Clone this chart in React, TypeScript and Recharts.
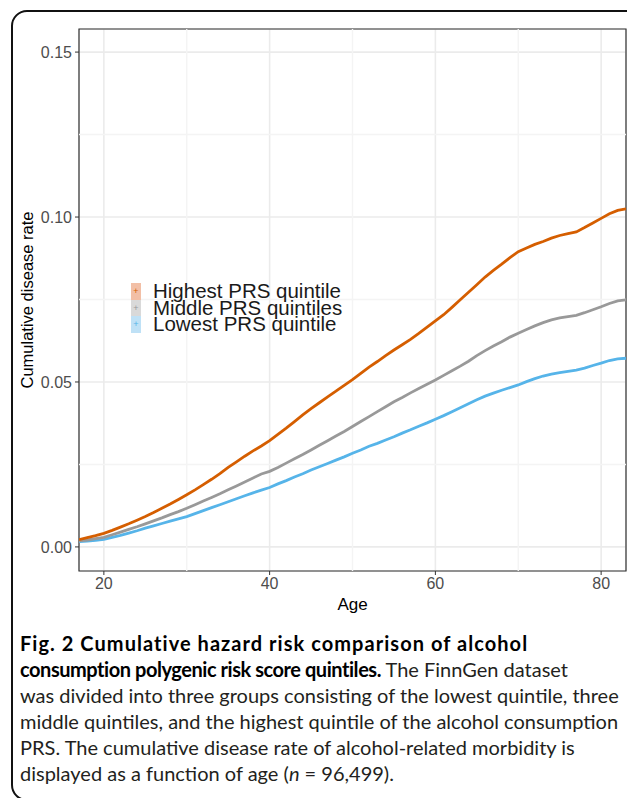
import { LineChart, Line, XAxis, YAxis, CartesianGrid, ReferenceLine, ReferenceArea } from "recharts";

const ages = [
  17, 18, 19, 20, 21, 22, 23, 24, 25, 26, 27, 28, 29, 30, 31, 32, 33, 34, 35, 36, 37, 38, 39, 40,
  41, 42, 43, 44, 45, 46, 47, 48, 49, 50, 51, 52, 53, 54, 55, 56, 57, 58, 59, 60, 61, 62, 63, 64,
  65, 66, 67, 68, 69, 70, 71, 72, 73, 74, 75, 76, 77, 78, 79, 80, 81, 82, 83,
];

const highest = [
  0.0022, 0.0028, 0.0034, 0.0041, 0.005, 0.006, 0.007, 0.0081, 0.0092, 0.0104, 0.0117, 0.013,
  0.0144, 0.0158, 0.0173, 0.0189, 0.0205, 0.0222, 0.0241, 0.0258, 0.0275, 0.0291, 0.0306, 0.0322,
  0.0341, 0.036, 0.038, 0.04, 0.0419, 0.0437, 0.0455, 0.0472, 0.049, 0.0507, 0.0526, 0.0545,
  0.0562, 0.058, 0.0597, 0.0613, 0.0629, 0.0647, 0.0666, 0.0685, 0.0704, 0.0726, 0.0749, 0.0772,
  0.0795, 0.0818, 0.0838, 0.0857, 0.0877, 0.0895, 0.0906, 0.0917, 0.0926, 0.0936, 0.0944, 0.095,
  0.0955, 0.0968, 0.0982, 0.0996, 0.101, 0.102, 0.1025,
];

const middle = [
  0.0018, 0.0021, 0.0025, 0.0029, 0.0037, 0.0045, 0.0053, 0.0061, 0.007, 0.0079, 0.0088, 0.0098,
  0.0107, 0.0117, 0.0128, 0.0139, 0.015, 0.0161, 0.0173, 0.0185, 0.0197, 0.0209, 0.0221, 0.0229,
  0.0241, 0.0254, 0.0267, 0.028, 0.0294, 0.0308, 0.0322, 0.0336, 0.035, 0.0365, 0.038, 0.0395,
  0.041, 0.0425, 0.044, 0.0453, 0.0467, 0.048, 0.0493, 0.0506, 0.052, 0.0534, 0.0548, 0.0563,
  0.058, 0.0595, 0.0609, 0.0622, 0.0636, 0.0648, 0.0659, 0.067, 0.068, 0.0688, 0.0694, 0.0698,
  0.0702, 0.071, 0.0719, 0.0728, 0.0738, 0.0746, 0.0749,
];

const lowest = [
  0.0016, 0.0018, 0.002, 0.0023, 0.0029, 0.0035, 0.0042, 0.0049, 0.0057, 0.0064, 0.0071, 0.0078,
  0.0085, 0.0092, 0.0101, 0.011, 0.0119, 0.0128, 0.0137, 0.0146, 0.0155, 0.0164, 0.0172, 0.018,
  0.0191, 0.0201, 0.0212, 0.0222, 0.0233, 0.0243, 0.0253, 0.0263, 0.0273, 0.0284, 0.0294, 0.0305,
  0.0314, 0.0324, 0.0334, 0.0345, 0.0355, 0.0366, 0.0376, 0.0387, 0.0398, 0.041, 0.0422, 0.0434,
  0.0446, 0.0457, 0.0466, 0.0475, 0.0483, 0.0491, 0.0501, 0.051, 0.0518, 0.0524, 0.0528, 0.0532,
  0.0536, 0.0542, 0.055, 0.0557, 0.0565, 0.057, 0.0572,
];

const xTicks = [20, 40, 60, 80];
const xMinor = [30, 50, 70];
const yTicks = [0, 0.05, 0.1, 0.15];
const yMinor = [0.025, 0.075, 0.125];

const seriesNames = ["Highest PRS quintile", "Middle PRS quintiles", "Lowest PRS quintile"];
const seriesColors = ["#d55e00", "#999999", "#56b4e9"];
const keyFills = ["#f2bfa6", "#d9d9d9", "#bfe1f6"];

const data = ages.map((age, i) => ({
  age,
  highest: highest[i],
  middle: middle[i],
  lowest: lowest[i],
}));

const axisFont = "Liberation Sans, Arial, sans-serif";
const tickStyle = { fill: "#4d4d4d", fontSize: 16, fontFamily: axisFont };

// legend sits inside the panel, drawn as plain html on top of the svg
function LegendBox() {
  return (
    <div style={{ position: "absolute", left: 131, top: 283, fontFamily: axisFont, fontSize: 20.5, color: "#1a1a1a" }}>
      {seriesNames.map((name, i) => (
        <div key={name} style={{ display: "flex", alignItems: "center", height: 16.7, lineHeight: "16.7px" }}>
          <div
            style={{
              width: 10,
              height: 16.7,
              background: keyFills[i],
              color: seriesColors[i],
              fontSize: 9,
              lineHeight: "16.7px",
              textAlign: "center",
              marginRight: 12,
            }}
          >
            +
          </div>
          <span style={{ display: "inline-block", height: 16.7, lineHeight: "16.7px", whiteSpace: "nowrap" }}>{name}</span>
        </div>
      ))}
    </div>
  );
}

export default function App() {
  return (
    <div style={{ position: "absolute", left: 0, top: 0, width: 627, height: 798, overflow: "hidden", background: "#fff" }}>
      <div
        style={{
          position: "absolute",
          left: 11,
          top: 10,
          width: 660,
          height: 791,
          border: "2.5px solid #111",
          borderRadius: 16,
          boxSizing: "border-box",
        }}
      />
      <div style={{ position: "absolute", left: 0, top: 0 }}>
        <LineChart width={627} height={615} data={data} margin={{ top: 29, right: 1, bottom: 0, left: 0 }}>
          <CartesianGrid stroke="#ebebeb" strokeWidth={1.6} />
          {xMinor.map((v) => (
            <ReferenceLine key={"x" + v} x={v} stroke="#f4f4f4" strokeWidth={1.4} />
          ))}
          {yMinor.map((v) => (
            <ReferenceLine key={"y" + v} y={v} stroke="#f4f4f4" strokeWidth={1.4} />
          ))}
          <XAxis
            dataKey="age"
            type="number"
            domain={[17, 83]}
            ticks={xTicks}
            allowDataOverflow
            height={44}
            tick={tickStyle}
            tickSize={4}
            tickMargin={3}
            axisLine={false}
            tickLine={{ stroke: "#333" }}
            label={(props: any) => {
              const vb = props.viewBox;
              return (
                <text x={vb.x + vb.width / 2} y={610} textAnchor="middle" fontSize={17} fill="#000" fontFamily={axisFont}>
                  Age
                </text>
              );
            }}
          />
          <YAxis
            type="number"
            domain={[-0.0073, 0.157]}
            ticks={yTicks}
            allowDataOverflow
            width={79}
            tick={tickStyle}
            tickSize={4}
            tickMargin={3}
            tickFormatter={(v: number) => v.toFixed(2)}
            axisLine={false}
            tickLine={{ stroke: "#333" }}
            label={(props: any) => {
              const vb = props.viewBox;
              const cy = vb.y + vb.height / 2;
              return (
                <text
                  x={33}
                  y={cy}
                  transform={`rotate(-90, 33, ${cy})`}
                  textAnchor="middle"
                  fontSize={16.5}
                  fill="#000"
                  fontFamily={axisFont}
                >
                  Cumulative disease rate
                </text>
              );
            }}
          />
          <Line type="linear" dataKey="lowest" name={seriesNames[2]} stroke={seriesColors[2]} strokeWidth={2.8} dot={false} isAnimationActive={false} />
          <Line type="linear" dataKey="middle" name={seriesNames[1]} stroke={seriesColors[1]} strokeWidth={2.8} dot={false} isAnimationActive={false} />
          <Line type="linear" dataKey="highest" name={seriesNames[0]} stroke={seriesColors[0]} strokeWidth={2.8} dot={false} isAnimationActive={false} />
          <ReferenceArea x1={17} x2={83} y1={-0.0073} y2={0.157} fill="none" stroke="#333" strokeWidth={1.2} ifOverflow="extendDomain" />
        </LineChart>
        <LegendBox />
      </div>
      <div
        style={{
          position: "absolute",
          left: 20,
          top: 630,
          width: 620,
          fontFamily: "Lato, sans-serif",
          fontSize: 20,
          lineHeight: "26px",
          color: "#231f20",
          whiteSpace: "nowrap",
        }}
      >
        <div style={{ fontWeight: 700, color: "#000", letterSpacing: 1.05 }}>Fig. 2 Cumulative hazard risk comparison of alcohol</div>
        <div>
          <span style={{ fontWeight: 700, color: "#000", letterSpacing: -0.45 }}>consumption polygenic risk score quintiles.</span>
          {" The FinnGen dataset"}
        </div>
        <div>was divided into three groups consisting of the lowest quintile, three</div>
        <div>middle quintiles, and the highest quintile of the alcohol consumption</div>
        <div>PRS. The cumulative disease rate of alcohol-related morbidity is</div>
        <div>
          displayed as a function of age (<i>n</i> = 96,499).
        </div>
      </div>
    </div>
  );
}
